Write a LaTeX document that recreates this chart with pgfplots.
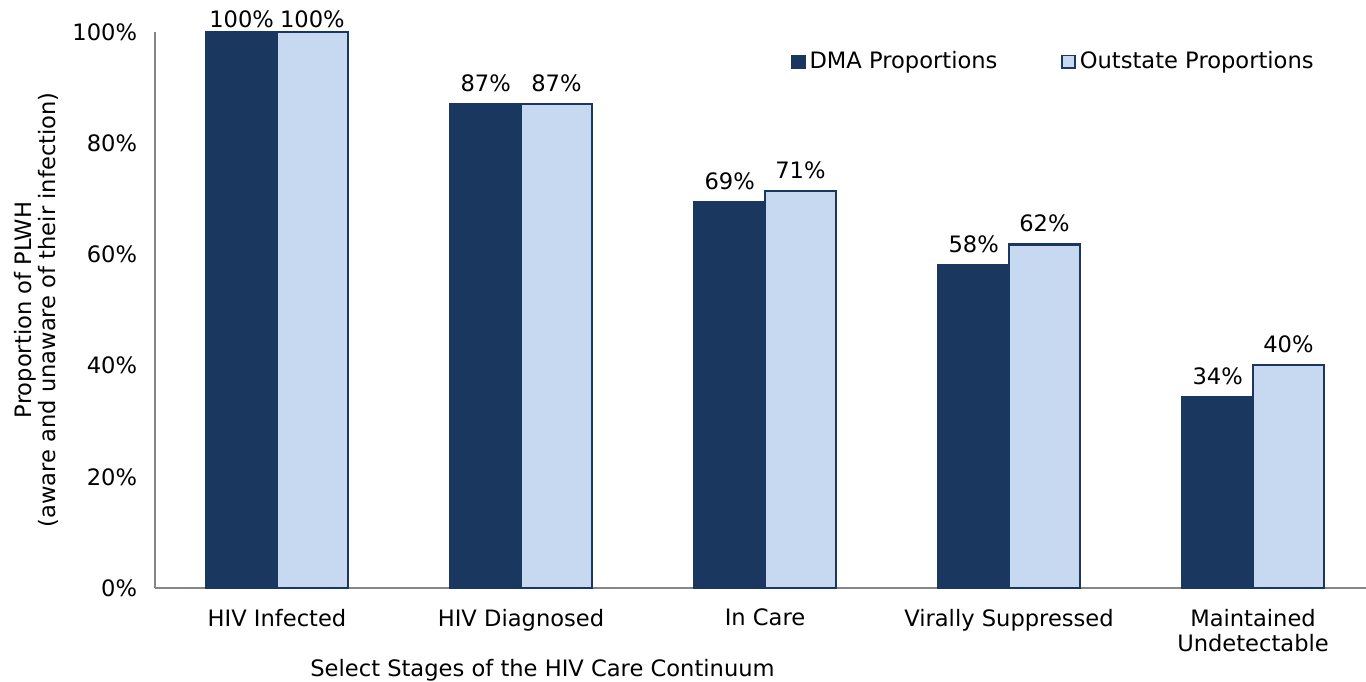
\documentclass[border=0pt]{standalone}
\usepackage{fontspec}
\setmainfont{DejaVu Sans}
\usepackage{pgfplots}
\pgfplotsset{compat=1.18}
\definecolor{dma}{HTML}{1A3760}
\definecolor{outst}{HTML}{C6D9F0}
\definecolor{axgray}{HTML}{868686}
\begin{document}
\fontsize{11.3pt}{12pt}\selectfont
\begin{tikzpicture}
\useasboundingbox (-77.5pt,-46.5pt) rectangle (605.5pt,294pt);
\begin{axis}[
  at={(0,0)}, anchor=south west,
  scale only axis,
  width=605.5pt, height=278pt,
  xmin=-0.5, xmax=4.463,
  ymin=0, ymax=100,
  ybar, bar width=0.29,
  axis x line*=bottom, axis y line*=left,
  axis line style={axgray, line width=0.9pt, -},
  major tick length=0pt,
  xtick={0,1,2,3,4},
  xticklabels={HIV Infected, HIV Diagnosed, In Care, Virally Suppressed, {Maintained\\Undetectable}},
  xticklabel style={align=center, yshift=-6.5pt, font=\fontsize{11.3pt}{12.5pt}\selectfont},
  ytick={0,20,40,60,80,100},
  yticklabel={\pgfmathprintnumber{\tick}\%},
  yticklabel style={xshift=-5pt, font=\fontsize{11.3pt}{13pt}\selectfont},
  /pgf/number format/assume math mode=true,
  xlabel={Select Stages of the HIV Care Continuum},
  xlabel style={at={(rel axis cs:0.32,0)}, anchor=center, yshift=-41pt, font=\fontsize{11.3pt}{13pt}\selectfont},
  ylabel={Proportion of PLWH\\(aware and unaware of their infection)},
  ylabel style={at={(rel axis cs:0,0.5)}, anchor=center, yshift=59.5pt, align=center, font=\fontsize{11.3pt}{12pt}\selectfont},
  visualization depends on={y \as \rawy},
  nodes near coords={\pgfmathprintnumber[fixed,precision=0]{\pgfplotspointmeta}\%},
  nodes near coords style={font=\fontsize{11.3pt}{13pt}\selectfont, inner sep=1.5pt, anchor=south, yshift={4*(\rawy<99)}},
  legend style={draw=none, fill=none, at={(rel axis cs:0.52,0.98)}, anchor=north west, legend columns=2,
    /tikz/every even column/.append style={column sep=30pt}, font=\fontsize{11.3pt}{13pt}\selectfont},
  legend image code/.code={\draw[#1, line width=0.8pt] (0pt,-3.2pt) rectangle (6.4pt,3.2pt);},
  clip=false,
]
\addplot[fill=dma, draw=dma, line width=1.2pt, bar shift=-0.145] coordinates {(0,100) (1,87) (2,69.4) (3,58.1) (4,34.4)};
\addplot[fill=outst, draw=dma, line width=1.2pt, bar shift=0.145] coordinates {(0,100) (1,87) (2,71.4) (3,61.8) (4,40.1)};
\legend{DMA Proportions, Outstate Proportions}
\end{axis}
\end{tikzpicture}
\end{document}
